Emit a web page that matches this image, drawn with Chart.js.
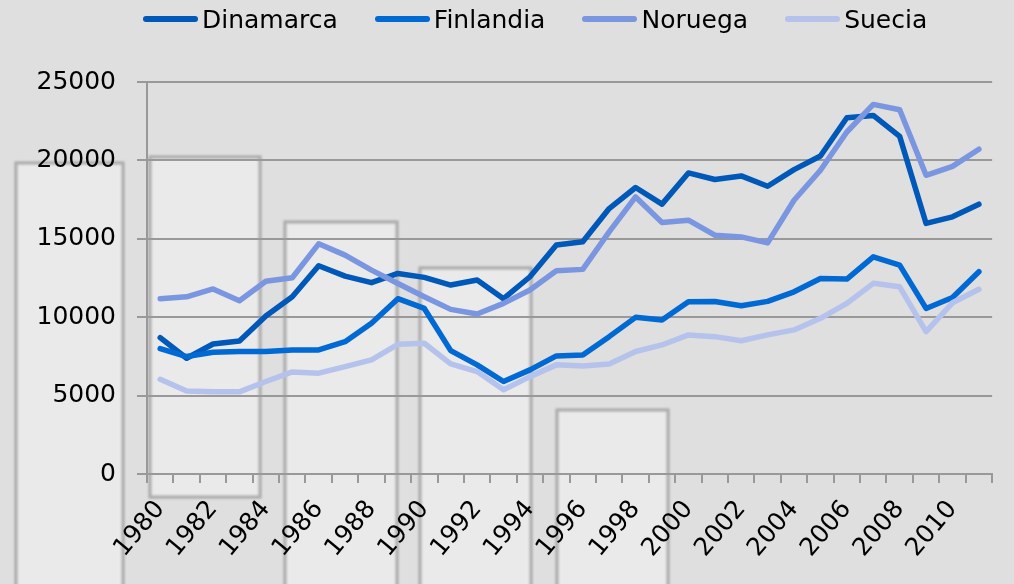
<!DOCTYPE html>
<html>
<head>
<meta charset="utf-8">
<script src="https://cdn.jsdelivr.net/npm/chart.js@4"></script>
<style>
  body { margin: 0; background: #dfdfdf; }
  #wrap { position: relative; width: 1014px; height: 584px; overflow: hidden; }
  #legend { position: absolute; top: 2px; left: 143px; height: 34px; display: flex; align-items: center;
            font-family: "DejaVu Sans", sans-serif; font-size: 25px; color: #000; }
  .item { display: flex; align-items: center; margin-right: 37px; }
  .swatch { width: 55px; height: 6px; border-radius: 3px; margin-right: 4px; }
</style>
</head>
<body>
<div id="wrap">
  <canvas id="chart" width="1014" height="584"></canvas>
  <div id="legend"></div>
</div>
<script>
// years 1980 - 2011
const years = ['1980','1981','1982','1983','1984','1985','1986','1987','1988','1989',
  '1990','1991','1992','1993','1994','1995','1996','1997','1998','1999',
  '2000','2001','2002','2003','2004','2005','2006','2007','2008','2009','2010','2011'];

const seriesNames = ['Dinamarca', 'Finlandia', 'Noruega', 'Suecia'];
const seriesColors = ['#0058b8', '#0069d3', '#7b96e0', '#b5c3ec'];

const dinamarca = [8700,7380,8290,8480,10080,11300,13280,12620,12200,12790,12540,12050,12370,11180,12580,14600,
  14810,16930,18270,17210,19200,18780,19010,18350,19410,20280,22720,22870,21530,15980,16400,17210];
const finlandia = [8000,7490,7760,7810,7810,7910,7910,8440,9610,11180,10560,7870,6960,5900,6640,7530,
  7590,8760,9990,9820,10990,11000,10730,11010,11620,12470,12430,13850,13320,10560,11260,12900];
const noruega = [11180,11300,11800,11050,12290,12520,14680,13960,13000,12150,11300,10500,10200,10880,11730,12960,
  13050,15440,17670,16040,16190,15230,15120,14740,17460,19370,21810,23570,23230,19050,19620,20710];
const suecia = [6040,5300,5240,5240,5900,6510,6430,6850,7280,8270,8340,7020,6530,5370,6210,6960,
  6890,7020,7810,8230,8870,8760,8500,8870,9190,9930,10880,12160,11940,9080,10920,11780];

const yTicks = [0, 5000, 10000, 15000, 20000, 25000];

// light decorative panels behind the plot
const panels = [
  [16, 163, 107, 470],
  [150, 157, 110, 340],
  [285, 222, 112, 420],
  [420, 268, 111, 380],
  [557, 410, 111, 240]
];

const panelPlugin = {
  id: 'panels',
  beforeDraw(chart) {
    const ctx = chart.ctx;
    ctx.save();
    ctx.fillStyle = '#dfdfdf';
    ctx.fillRect(0, 0, chart.width, chart.height);
    panels.forEach(p => {
      ctx.fillStyle = '#eaeaea';
      ctx.fillRect(p[0], p[1], p[2], p[3]);
      ctx.filter = 'blur(1.2px)';
      ctx.strokeStyle = 'rgba(150,150,150,0.75)';
      ctx.lineWidth = 3;
      ctx.strokeRect(p[0], p[1], p[2], p[3]);
      ctx.filter = 'none';
    });
    ctx.restore();
  }
};

const allData = [dinamarca, finlandia, noruega, suecia];

const chart = new Chart(document.getElementById('chart'), {
  type: 'line',
  data: {
    labels: years,
    datasets: allData.map((d, i) => ({
      label: seriesNames[i],
      data: d,
      borderColor: seriesColors[i],
      backgroundColor: seriesColors[i],
      borderWidth: 5.5,
      pointRadius: 0,
      tension: 0,
      borderJoinStyle: 'round',
      borderCapStyle: 'round',
      order: 4 - i
    }))
  },
  options: {
    responsive: false,
    animation: false,
    layout: { padding: { top: 82, right: 7, left: 0, bottom: 0 } },
    plugins: {
      legend: { display: false },
      tooltip: { enabled: false }
    },
    scales: {
      x: {
        offset: true,
        afterFit(scale) { scale.height = 110; },
        grid: { offset: true, drawOnChartArea: false, drawTicks: true, tickLength: 9, color: '#999', lineWidth: 2 },
        border: { display: true, color: '#999', width: 2 },
        ticks: {
          autoSkip: false,
          maxRotation: 50,
          minRotation: 50,
          padding: 12,
          color: '#000',
          font: { family: 'DejaVu Sans', size: 25 },
          callback: function(val, idx) { return idx % 2 === 0 ? years[idx] : ''; }
        }
      },
      y: {
        min: 0,
        max: 25000,
        afterFit(scale) { scale.width = 147; },
        afterBuildTicks(scale) { scale.ticks = yTicks.map(v => ({ value: v })); },
        grid: { color: '#999', lineWidth: 2, tickLength: 10 },
        border: { display: true, color: '#999', width: 2 },
        ticks: {
          padding: 21,
          color: '#000',
          font: { family: 'DejaVu Sans', size: 25 },
          callback: v => String(v)
        }
      }
    }
  },
  plugins: [panelPlugin]
});

// legend as plain html
const legend = document.getElementById('legend');
seriesNames.forEach((name, i) => {
  const item = document.createElement('div');
  item.className = 'item';
  const sw = document.createElement('span');
  sw.className = 'swatch';
  sw.style.background = seriesColors[i];
  const txt = document.createElement('span');
  txt.textContent = name;
  item.appendChild(sw);
  item.appendChild(txt);
  legend.appendChild(item);
});
</script>
</body>
</html>
